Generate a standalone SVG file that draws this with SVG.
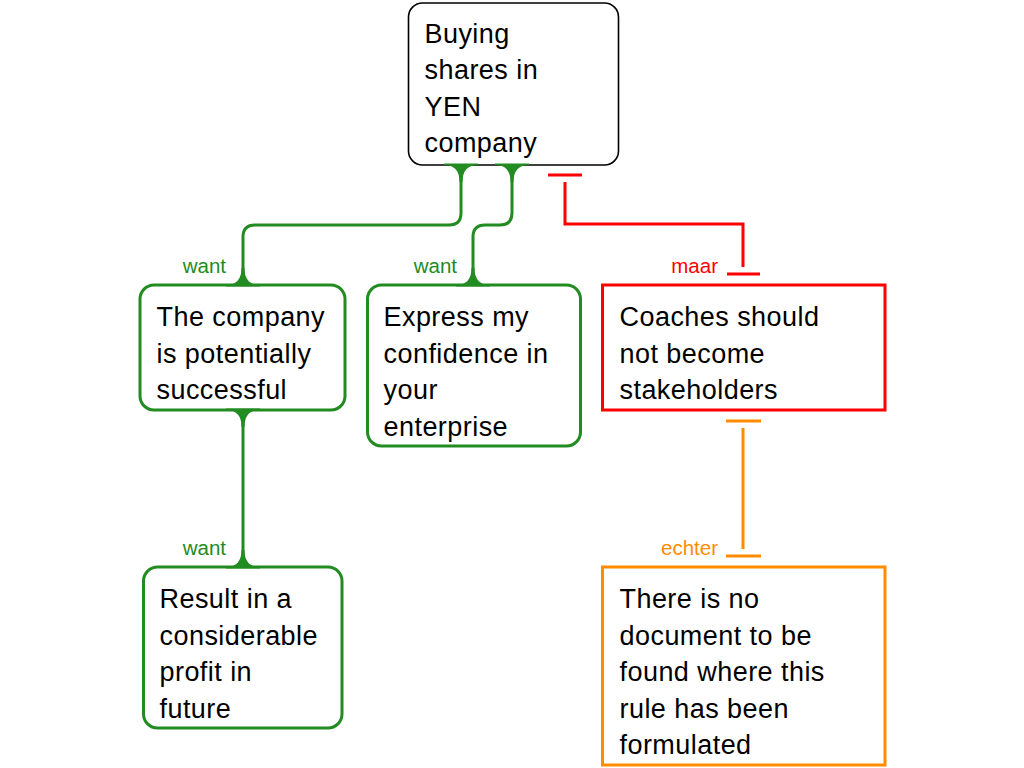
<svg xmlns="http://www.w3.org/2000/svg" xmlns:xlink="http://www.w3.org/1999/xlink" width="1024" height="768" viewBox="0 0 1024 768">
<style>
.t{font-family:"Liberation Sans",Arial,sans-serif;font-size:27px;letter-spacing:0.45px;fill:#000}
.lbl{font-family:"Liberation Sans",Arial,sans-serif;font-size:20.5px;text-anchor:end}
.g{stroke:#228B22;fill:none;stroke-width:3}
.gf{fill:#228B22}
.r{stroke:#FF0000;fill:none;stroke-width:3}
.o{stroke:#FF8C00;fill:none;stroke-width:3}
</style>
<defs>
<path id="flareDown" d="M-17 -1.5 H17 V0 Q1.5 0 1.5 17 L-1.5 17 Q-1.5 0 -17 0 Z"/>
<path id="flareUp" d="M-17 1.5 H17 V0 Q1.5 0 1.5 -17 L-1.5 -17 Q-1.5 0 -17 0 Z"/>
</defs>
<rect width="1024" height="768" fill="#fff"/>
<g id="n1">
<rect x="408.5" y="3" width="210" height="162" rx="14" fill="#fff" stroke="#000" stroke-width="1.6"/>
<text class="t"><tspan x="424.5" y="42.5">Buying</tspan><tspan x="424.5" y="79">shares in</tspan><tspan x="424.5" y="115.5">YEN</tspan><tspan x="424.5" y="152">company</tspan></text>
</g>
<g id="n2">
<rect x="140" y="285" width="205" height="125" rx="14" fill="#fff" stroke="#228B22" stroke-width="3"/>
<text class="t"><tspan x="156.5" y="326">The company</tspan><tspan x="156.5" y="362.5">is potentially</tspan><tspan x="156.5" y="399">successful</tspan></text>
</g>
<g id="n3">
<rect x="367.5" y="285" width="213" height="161" rx="14" fill="#fff" stroke="#228B22" stroke-width="3"/>
<text class="t"><tspan x="383.5" y="326">Express my</tspan><tspan x="383.5" y="362.5">confidence in</tspan><tspan x="383.5" y="399">your</tspan><tspan x="383.5" y="435.5">enterprise</tspan></text>
</g>
<g id="n4">
<rect x="602.5" y="285" width="282.5" height="125" fill="#fff" stroke="#FF0000" stroke-width="3"/>
<text class="t"><tspan x="619.5" y="326">Coaches should</tspan><tspan x="619.5" y="362.5">not become</tspan><tspan x="619.5" y="399">stakeholders</tspan></text>
</g>
<g id="n5">
<rect x="143.5" y="567" width="198.5" height="161" rx="14" fill="#fff" stroke="#228B22" stroke-width="3"/>
<text class="t"><tspan x="159.5" y="608">Result in a</tspan><tspan x="159.5" y="644.5">considerable</tspan><tspan x="159.5" y="681">profit in</tspan><tspan x="159.5" y="717.5">future</tspan></text>
</g>
<g id="n6">
<rect x="602.5" y="567" width="282.5" height="198" fill="#fff" stroke="#FF8C00" stroke-width="3"/>
<text class="t"><tspan x="619.5" y="608">There is no</tspan><tspan x="619.5" y="644.5">document to be</tspan><tspan x="619.5" y="681">found where this</tspan><tspan x="619.5" y="717.5">rule has been</tspan><tspan x="619.5" y="754">formulated</tspan></text>
</g>
<g id="connectors">
<path class="g" d="M461 165 V213 Q461 225 449 225 H255 Q243 225 243 237 V285"/>
<use href="#flareDown" xlink:href="#flareDown" class="gf" x="461" y="165"/>
<use href="#flareUp" xlink:href="#flareUp" class="gf" x="243" y="285"/>
<text class="lbl" x="226" y="273" fill="#228B22">want</text>
<path class="g" d="M512 165 V213 Q512 225 500 225 H485 Q473 225 473 237 V285"/>
<use href="#flareDown" xlink:href="#flareDown" class="gf" x="512" y="165"/>
<use href="#flareUp" xlink:href="#flareUp" class="gf" x="473" y="285"/>
<text class="lbl" x="457" y="273" fill="#228B22">want</text>
<path class="g" d="M243 410 V567"/>
<use href="#flareDown" xlink:href="#flareDown" class="gf" x="243" y="410"/>
<use href="#flareUp" xlink:href="#flareUp" class="gf" x="243" y="567"/>
<text class="lbl" x="226" y="555" fill="#228B22">want</text>
<path class="r" d="M548 175 H582 M565 182 V224 H743 V267 M727 274 H760"/>
<text class="lbl" x="718" y="273" fill="#FF0000">maar</text>
<path class="o" d="M726 421 H761 M743 428 V549 M726 556 H761"/>
<text class="lbl" x="718" y="555" fill="#FF8C00">echter</text>
</g>
</svg>
